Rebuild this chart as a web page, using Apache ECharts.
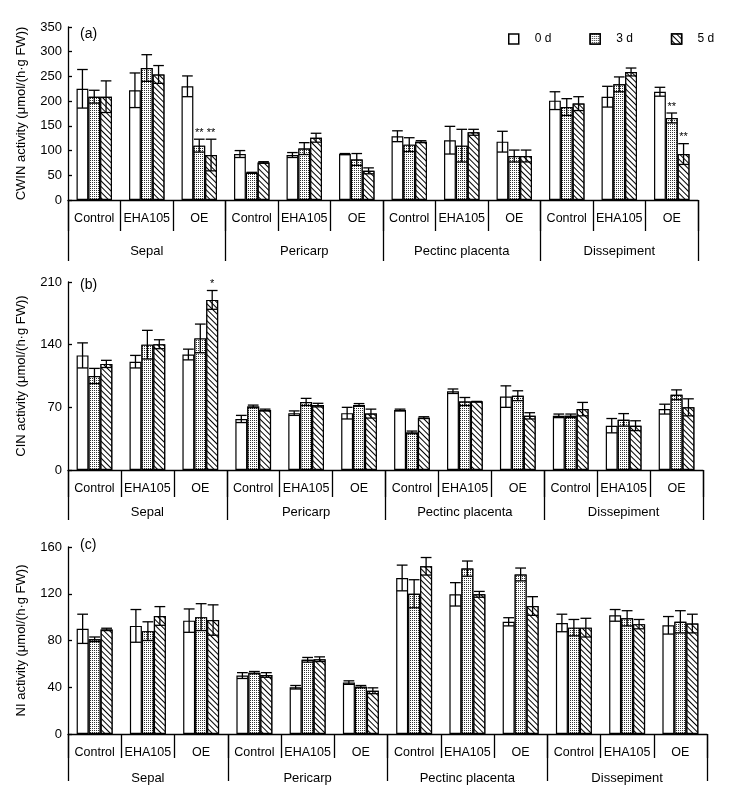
<!DOCTYPE html>
<html><head><meta charset="utf-8">
<script src="https://cdn.jsdelivr.net/npm/echarts@6/dist/echarts.min.js"></script>
<style>html,body{margin:0;padding:0;background:#fff}#c{width:732px;height:807px}</style>
</head><body><div id="c"></div>
<script>
const treatments = ['Control','EHA105','OE','Control','EHA105','OE','Control','EHA105','OE','Control','EHA105','OE'];
const tissues = ['Sepal','Pericarp','Pectinc placenta','Dissepiment'];
const seriesNames = ['0 d','3 d','5 d'];

// (a) CWIN
const cwin0 = [225, 222, 230, 93, 91, 93, 129, 121, 118, 201, 209, 219];
const cwin0Err = [39, 35, 21, 7, 5, 1, 11, 28, 21, 18, 21, 9];
const cwin3 = [209, 267, 110, 55, 104, 82, 112, 110, 89, 188, 234, 166];
const cwin3Err = [13, 27, 13, 1, 12, 12, 14, 33, 12, 17, 15, 10];
const cwin5 = [209, 254, 91, 76, 126, 59, 118, 137, 89, 195, 259, 93];
const cwin5Err = [32, 18, 32, 1.5, 9, 6, 2, 6, 12, 14, 8, 21];
const cwin3Sig = ['', '', '**', '', '', '', '', '', '', '', '', '**'];
const cwin5Sig = ['', '', '**', '', '', '', '', '', '', '', '', '**'];

// (b) CIN
const cin0 = [128, 121, 129, 57, 63.5, 63.5, 67, 88, 82, 60.5, 49.5, 68];
const cin0Err = [14, 7, 6, 4, 2.5, 6.5, 1, 2.5, 12, 2, 8, 5.5];
const cin3 = [105, 140, 147, 71, 76, 72.7, 42, 76.5, 83, 60.5, 56, 84];
const cin3Err = [8.5, 16, 16, 1.5, 4, 1.5, 1.5, 4.5, 5.5, 2, 7, 5.5];
const cin5 = [118.5, 140.5, 190, 67, 72.5, 63, 58.5, 76.5, 60.5, 68, 49.5, 70];
const cin5Err = [4, 5, 10.5, 1, 2, 5, 1, 0, 3.5, 7.5, 5.5, 9.5];
const cin5Sig = ['', '', '*', '', '', '', '', '', '', '', '', ''];

// (c) NI
const ni0 = [90, 92.5, 97, 50, 40, 44, 133.5, 119.5, 96, 95, 101.5, 93];
const ni0Err = [12.5, 14, 10, 2.5, 1.5, 1.5, 11, 10, 3.5, 7.5, 5, 7.5];
const ni3 = [81, 88, 100, 52.5, 63.5, 40.5, 120, 141.5, 136.5, 91, 99, 96];
const ni3Err = [2, 8, 11.5, 1, 2, 1, 12, 6.5, 5.5, 7, 6.5, 9.5];
const ni5 = [89.5, 101, 97.5, 50.5, 64, 37, 143.5, 119.5, 109.5, 91, 94, 94.5];
const ni5Err = [1, 8, 13, 2, 2, 2.5, 7.5, 2.5, 8, 8, 4, 8];

const yNames = ['CWIN activity (μmol/(h·g FW))', 'CIN activity (μmol/(h·g FW))', 'NI activity (μmol/(h·g FW))'];
const yMax = [350, 210, 160];
const yInt = [50, 70, 40];
const panelLabels = ['(a)', '(b)', '(c)'];

const panels = [
  {vals: [cwin0, cwin3, cwin5], errs: [cwin0Err, cwin3Err, cwin5Err], sigs: [[], cwin3Sig, cwin5Sig]},
  {vals: [cin0, cin3, cin5], errs: [cin0Err, cin3Err, cin5Err], sigs: [[], [], cin5Sig]},
  {vals: [ni0, ni3, ni5], errs: [ni0Err, ni3Err, ni5Err], sigs: [[], [], []]}
];

const FONT = 'Liberation Sans, Arial, sans-serif';
const grids = [
  {left: 68, top: 27, width: 630, height: 173},
  {left: 68, top: 282, width: 635, height: 188},
  {left: 68, top: 547, width: 639, height: 187}
];
const shortTick = [31, 27, 24];
const longTick = [61, 50, 47];
const tissueMargin = [45, 36, 38];
const labelTops = [27, 278, 538];

const BW = 0.225;
const decals = [
  null,
  {symbol: 'rect', symbolSize: 1, dashArrayX: [1, 1], dashArrayY: [1, 1], color: '#333', backgroundColor: '#fff'},
  {symbol: 'rect', symbolSize: 1, dashArrayX: [1, 0], dashArrayY: [1, 2.6], rotation: Math.PI / 4, color: '#000', backgroundColor: '#fff'}
];

const xAxes = [], yAxes = [], series = [], titles = [];
grids.forEach((g, p) => {
  xAxes.push({
    type: 'category', gridIndex: p, data: treatments, position: 'bottom',
    axisLine: {lineStyle: {color: '#000', width: 1.3}},
    axisTick: {show: true, interval: 0, length: shortTick[p], lineStyle: {color: '#000', width: 1.3}},
    axisLabel: {interval: 0, color: '#000', fontSize: 12.5, fontFamily: FONT, margin: 12}
  });
  xAxes.push({
    type: 'category', gridIndex: p, data: tissues, position: 'bottom',
    axisLine: {show: false},
    axisTick: {show: true, interval: 0, length: longTick[p], lineStyle: {color: '#000', width: 1.3}},
    axisLabel: {interval: 0, color: '#000', fontSize: 13, fontFamily: FONT, margin: tissueMargin[p]}
  });
  yAxes.push({
    type: 'value', gridIndex: p, min: 0, max: yMax[p], interval: yInt[p],
    name: yNames[p], nameLocation: 'middle', nameGap: 40, nameRotate: 90,
    nameTextStyle: {color: '#000', fontSize: 13, fontFamily: FONT},
    axisLine: {show: true, lineStyle: {color: '#000', width: 1.3}},
    axisTick: {show: true, inside: true, length: 4, lineStyle: {color: '#000', width: 1.3}},
    axisLabel: {color: '#000', fontSize: 13, fontFamily: FONT, margin: 6},
    splitLine: {show: false}
  });
  titles.push({text: panelLabels[p], left: 80, top: labelTops[p], padding: 0,
    textStyle: {fontSize: 14, fontWeight: 'normal', color: '#000', fontFamily: FONT}});
  const P = panels[p];
  for (let k = 0; k < 3; k++) {
    series.push({
      type: 'bar', name: seriesNames[k], xAxisIndex: p * 2, yAxisIndex: p,
      data: P.vals[k], barWidth: (BW * 100) + '%', barGap: '0%',
      itemStyle: Object.assign({color: '#fff', borderColor: '#000', borderWidth: 1.2},
        decals[k] ? {decal: decals[k]} : {}),
      emphasis: {disabled: true}, silent: true, z: 2
    });
  }
  for (let k = 0; k < 3; k++) {
    const data = P.vals[k].map((v, i) => [i, v, P.errs[k][i], (P.sigs[k][i] || '')]);
    series.push({
      type: 'custom', xAxisIndex: p * 2, yAxisIndex: p, z: 5, silent: true,
      encode: {x: 0, y: 1},
      data: data,
      renderItem: (function (k) {
        return function (params, api) {
          const ci = api.value(0), v = api.value(1), e = api.value(2);
          const sig = data[params.dataIndex][3];
          const bw = api.size([1, 0])[0] * BW;
          const c = api.coord([ci, v]);
          const cx = c[0] + (k - 1) * bw;
          const yt = api.coord([ci, v + e])[1];
          const yb = api.coord([ci, v - e])[1];
          const hw = bw * 0.45;
          const st = {stroke: '#000', lineWidth: 1.3};
          const children = [
            {type: 'line', shape: {x1: cx, y1: yt, x2: cx, y2: yb}, style: st},
            {type: 'line', shape: {x1: cx - hw, y1: yt, x2: cx + hw, y2: yt}, style: st},
            {type: 'line', shape: {x1: cx - hw, y1: yb, x2: cx + hw, y2: yb}, style: st}
          ];
          if (sig) {
            children.push({type: 'text', style: {text: sig, x: cx, y: yt - 1, align: 'center',
              verticalAlign: 'bottom', fontSize: 11, fontFamily: FONT, fill: '#000'}});
          }
          return {type: 'group', children: children};
        };
      })(k)
    });
  }
});

const chart = echarts.init(document.getElementById('c'), null, {renderer: 'canvas'});
chart.setOption({
  animation: false,
  backgroundColor: '#fff',
  title: titles,
  legend: {
    data: seriesNames, left: 508, top: 33, padding: 0, itemWidth: 10, itemHeight: 10, itemGap: 38,
    icon: 'rect', selectedMode: false,
    itemStyle: {borderWidth: 1.5},
    textStyle: {color: '#000', fontSize: 12, fontFamily: FONT, padding: [0, 0, 0, 11]}
  },
  grid: grids,
  xAxis: xAxes,
  yAxis: yAxes,
  series: series
});
</script>
</body></html>
